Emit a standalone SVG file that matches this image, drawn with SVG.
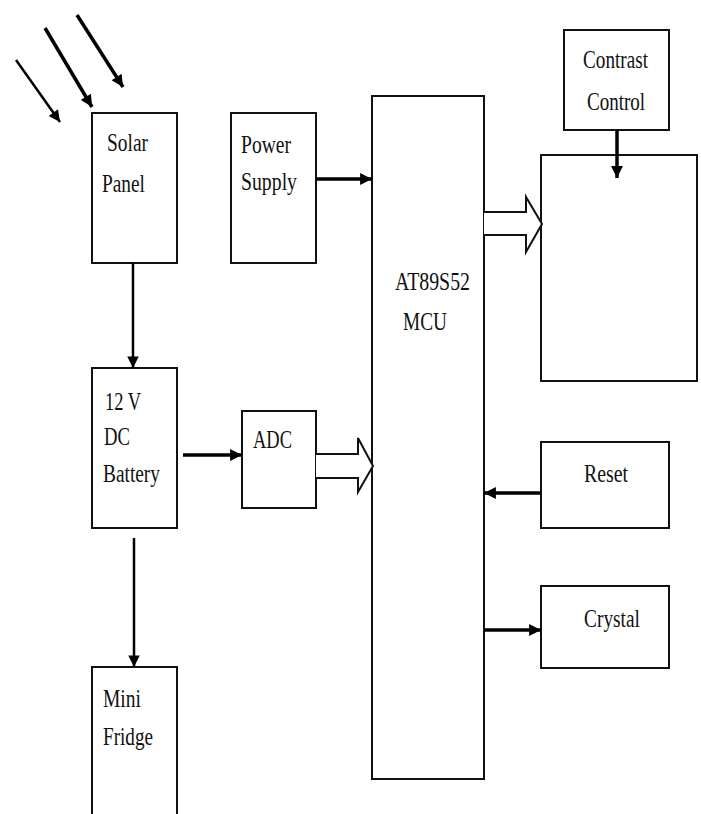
<svg xmlns="http://www.w3.org/2000/svg" width="701" height="814" viewBox="0 0 701 814">
<style>
.box{fill:#fff;stroke:#111;stroke-width:2}
.t{font-family:"Liberation Serif","Times New Roman",serif;font-size:26px;fill:#111}
.thick{stroke:#000;stroke-width:3.5;fill:none}
.thin{stroke:#000;stroke-width:2.5;fill:none}
.hollow{fill:#fff;stroke:#111;stroke-width:2;stroke-linejoin:miter}
</style>
<defs>
<marker id="ah" viewBox="0 0 10 10" refX="10" refY="5" markerWidth="3.6" markerHeight="3.4" orient="auto" markerUnits="strokeWidth">
<path d="M0,0 L10,5 L0,10 Z" fill="#000"/>
</marker>
<marker id="ah2" viewBox="0 0 10 10" refX="10" refY="5" markerWidth="5" markerHeight="4.6" orient="auto" markerUnits="strokeWidth">
<path d="M0,0 L10,5 L0,10 Z" fill="#000"/>
</marker>
</defs>
<rect width="701" height="814" fill="#fff"/>
<g id="solar-panel"><rect class="box" x="92" y="113" width="85" height="150"/>
<text class="t" x="107" y="151" textLength="41" lengthAdjust="spacingAndGlyphs">Solar</text>
<text class="t" x="102" y="192" textLength="43" lengthAdjust="spacingAndGlyphs">Panel</text></g>
<g id="power-supply"><rect class="box" x="231" y="113" width="85" height="150"/>
<text class="t" x="241" y="153" textLength="50" lengthAdjust="spacingAndGlyphs">Power</text>
<text class="t" x="241" y="190" textLength="56" lengthAdjust="spacingAndGlyphs">Supply</text></g>
<g id="mcu"><rect class="box" x="372" y="96" width="112" height="683"/>
<text class="t" x="395" y="290" textLength="75" lengthAdjust="spacingAndGlyphs">AT89S52</text>
<text class="t" x="403" y="330" textLength="44" lengthAdjust="spacingAndGlyphs">MCU</text></g>
<g id="contrast-control"><rect class="box" x="564" y="30" width="105" height="100"/>
<text class="t" x="583" y="68" textLength="65" lengthAdjust="spacingAndGlyphs">Contrast</text>
<text class="t" x="587" y="110" textLength="58" lengthAdjust="spacingAndGlyphs">Control</text></g>
<g id="lcd"><rect class="box" x="541" y="155" width="156" height="226"/></g>
<g id="battery"><rect class="box" x="92" y="368" width="85" height="160"/>
<text class="t" x="105" y="410" textLength="36" lengthAdjust="spacingAndGlyphs">12 V</text>
<text class="t" x="104" y="445" textLength="26" lengthAdjust="spacingAndGlyphs">DC</text>
<text class="t" x="103" y="482" textLength="57" lengthAdjust="spacingAndGlyphs">Battery</text></g>
<g id="adc"><rect class="box" x="242" y="411" width="74" height="97"/>
<text class="t" x="253" y="448" textLength="39" lengthAdjust="spacingAndGlyphs">ADC</text></g>
<g id="reset"><rect class="box" x="541" y="442" width="128" height="86"/>
<text class="t" x="584" y="482" textLength="44" lengthAdjust="spacingAndGlyphs">Reset</text></g>
<g id="crystal"><rect class="box" x="541" y="586" width="128" height="82"/>
<text class="t" x="584" y="627" textLength="56" lengthAdjust="spacingAndGlyphs">Crystal</text></g>
<g id="mini-fridge"><rect class="box" x="92" y="667" width="85" height="160"/>
<text class="t" x="103" y="707" textLength="38" lengthAdjust="spacingAndGlyphs">Mini</text>
<text class="t" x="103" y="745" textLength="50" lengthAdjust="spacingAndGlyphs">Fridge</text></g>
<g id="connectors">
<line class="thin" x1="16" y1="60" x2="60" y2="122" marker-end="url(#ah2)"/>
<line class="thick" x1="45" y1="28" x2="92" y2="107" marker-end="url(#ah)"/>
<line class="thick" x1="77" y1="15" x2="123" y2="87" marker-end="url(#ah)"/>
<line class="thin" x1="133" y1="263" x2="133" y2="368" marker-end="url(#ah2)"/>
<line class="thin" x1="134" y1="538" x2="134" y2="667" marker-end="url(#ah2)"/>
<line class="thick" x1="183" y1="455" x2="242" y2="455" marker-end="url(#ah)"/>
<line class="thick" x1="316" y1="179" x2="372" y2="179" marker-end="url(#ah)"/>
<line class="thick" x1="617" y1="130" x2="617" y2="178" marker-end="url(#ah)"/>
<line class="thick" x1="541" y1="493" x2="484" y2="493" marker-end="url(#ah)"/>
<line class="thick" x1="484" y1="630" x2="541" y2="630" marker-end="url(#ah)"/>
<path class="hollow" d="M316,454 H358 V438 L373,466 L358,492 V478 H316"/>
<path class="hollow" d="M484,212 H526 V197 L542,224 L526,252 V235 H484"/>
</g>
</svg>
